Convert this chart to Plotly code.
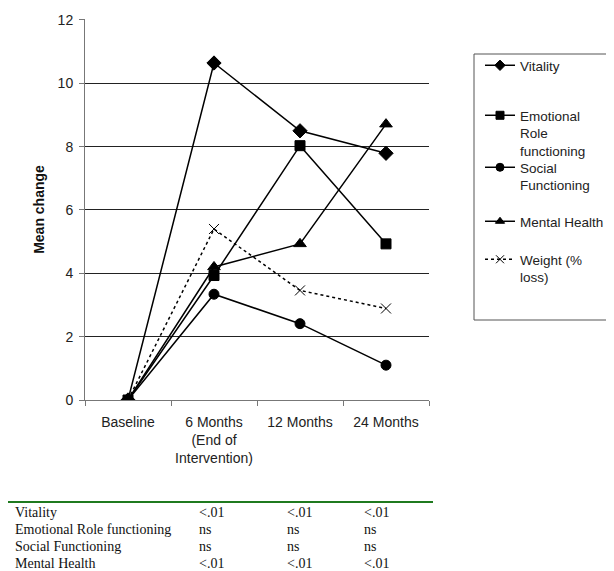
import plotly.graph_objects as go

categories = ["Baseline", "6 Months<br>(End of<br>Intervention)", "12 Months", "24 Months"]
vitality = [0, 10.64, 8.50, 7.79]
emotional = [0, 3.93, 8.03, 4.93]
social = [0, 3.34, 2.41, 1.10]
mental = [0, 4.20, 4.93, 8.71]
weight = [0, 5.40, 3.46, 2.89]

legend_names = ["Vitality", "Emotional<br>Role<br>functioning", "Social<br>Functioning",
                "Mental Health", "Weight (%<br>loss)"]

table_labels = ["Vitality", "Emotional Role functioning", "Social Functioning", "Mental Health"]
table_p = [["<.01", "<.01", "<.01"], ["ns", "ns", "ns"], ["ns", "ns", "ns"], ["<.01", "<.01", "<.01"]]

SANS = "Liberation Sans"
SERIF = "Liberation Serif"

# page has an 8px body margin; figure sized to fill the remaining window
OFF = 8
W, H = 614 - OFF, 571 - OFF
# plot area in reference-picture pixel coordinates
RL, RR, RT, RB = 85, 429, 19, 400
L, R, T, B = RL - OFF, RR - OFF, RT - OFF, RB - OFF
def px(x): return (x - RL) / (RR - RL)
def py(y): return (RB - y) / (RB - RT)

series = [vitality, emotional, social, mental, weight]
symbols = ["diamond", "square", "circle", "triangle-up", "x-thin-open"]
sizes = [11, 10, 10, 11, 10]
leg_sizes = [8, 8, 8, 8, 8]
legend_ids = ["legend", "legend2", "legend3", "legend4", "legend5"]
legend_centers = [65, 115, 167, 221, 259]

fig = go.Figure()
for i, (vals, sym, sz, nm) in enumerate(zip(series, symbols, sizes, legend_names)):
    dash = "3px,3px" if i == 4 else "solid"
    fig.add_trace(go.Scatter(
        x=categories, y=vals, name=nm, mode="lines+markers",
        line=dict(color="black", width=1.5, dash=dash),
        marker=dict(symbol=sym, size=sz, color="black",
                    line=dict(color="black", width=1)),
        showlegend=False,
    ))
# legend entries (no data drawn) with smaller symbols
for i, (sym, sz, lg, nm) in enumerate(zip(symbols, leg_sizes, legend_ids, legend_names)):
    dash = "3px,3px" if i == 4 else "solid"
    fig.add_trace(go.Scatter(
        x=[None], y=[None], name=nm, mode="lines+markers",
        line=dict(color="black", width=1.5, dash=dash),
        marker=dict(symbol=sym, size=sz, color="black",
                    line=dict(color="black", width=1)),
        legend=lg, showlegend=True,
    ))

layout_legends = {}
for lg, c in zip(legend_ids, legend_centers):
    layout_legends[lg] = dict(
        x=px(480), y=py(c - 15), xanchor="left", yanchor="top",
        bgcolor="rgba(0,0,0,0)", borderwidth=0, valign="top",
        font=dict(family=SANS, size=13.5, color="#222"),
        itemwidth=30, tracegroupgap=0,
    )

shapes = [
    dict(type="rect", xref="paper", yref="paper", x0=px(474), x1=px(613), y0=py(320), y1=py(54),
         line=dict(color="#555", width=1), fillcolor="rgba(0,0,0,0)"),
    dict(type="line", xref="paper", yref="paper", x0=px(7), x1=px(433), y0=py(502), y1=py(502),
         line=dict(color="#1f7a1f", width=2)),
]

annotations = []
row_y = [512, 529, 546, 563]
col_x = [197, 285, 362]
for r, (lab, ps) in enumerate(zip(table_labels, table_p)):
    annotations.append(dict(text=lab, x=px(13), y=py(row_y[r]), xref="paper", yref="paper",
                            xanchor="left", yanchor="middle", showarrow=False,
                            font=dict(family=SERIF, size=14, color="#111")))
    for c, p in enumerate(ps):
        annotations.append(dict(text=p.replace("<", "&lt;"), x=px(col_x[c]), y=py(row_y[r]),
                                xref="paper", yref="paper", xanchor="left", yanchor="middle",
                                showarrow=False,
                                font=dict(family=SERIF, size=14, color="#111")))

fig.update_layout(
    width=W, height=H,
    margin=dict(l=L, r=W - R, t=T, b=H - B, pad=0, autoexpand=False),
    paper_bgcolor="white", plot_bgcolor="white",
    font=dict(family=SANS, size=14, color="#222"),
    showlegend=True,
    shapes=shapes, annotations=annotations,
    **layout_legends,
)
fig.update_xaxes(
    type="category", range=[-0.5, 3.5], showgrid=False, automargin=False,
    showline=True, linecolor="#777", linewidth=1, tickangle=0,
    ticks="outside", ticklen=5, tickcolor="#777", tickson="boundaries", ticklabelstandoff=9,
    tickfont=dict(family=SANS, size=14, color="#222"),
)
fig.update_yaxes(
    range=[0, 12.03], dtick=2, showgrid=True, gridcolor="#222", gridwidth=1,
    showline=True, linecolor="#777", linewidth=1, zeroline=False, automargin=False,
    ticks="outside", ticklen=5, tickcolor="#777", ticklabelstandoff=3,
    tickfont=dict(family=SANS, size=14, color="#222"),
    title=dict(text="<b>Mean change</b>", font=dict(family=SANS, size=14, color="#111"),
               standoff=9),
)

fig.write_html("out.html")
